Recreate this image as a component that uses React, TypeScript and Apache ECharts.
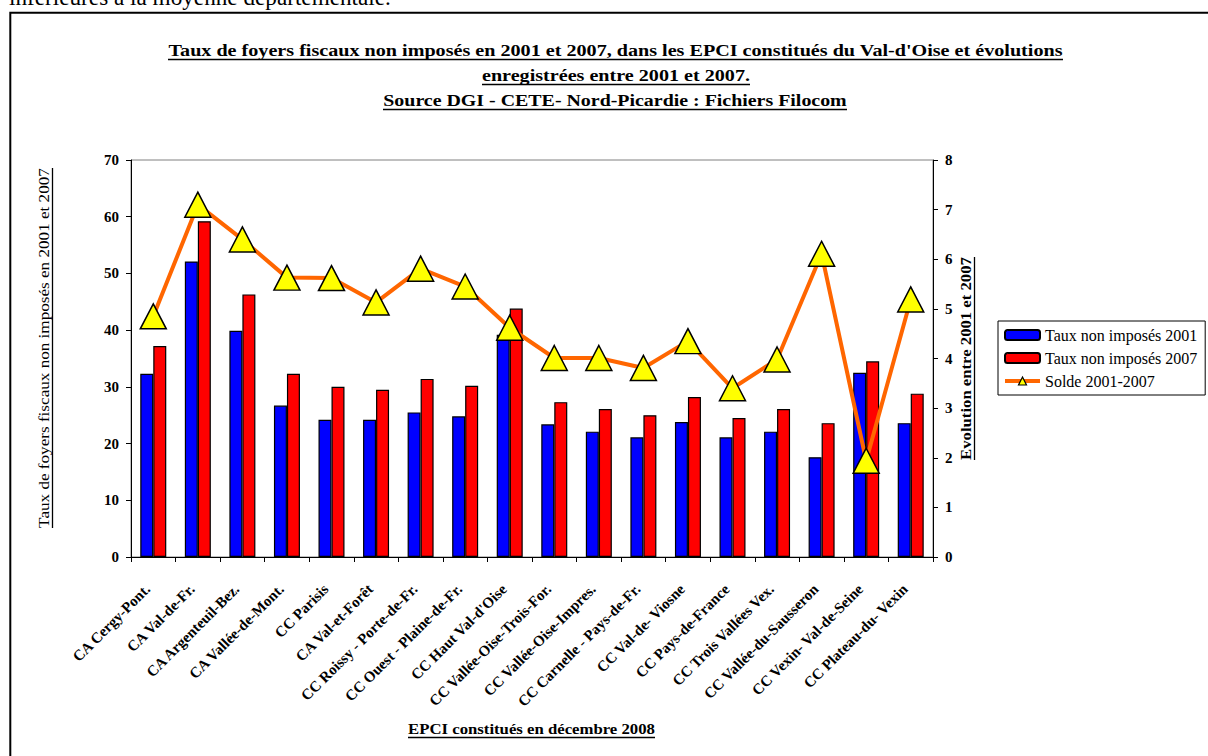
import React, { useEffect, useRef } from "react";
import * as echarts from "echarts";

const categories = [
  "CA Cergy-Pont.",
  "CA Val-de-Fr.",
  "CA Argenteuil-Bez.",
  "CA Vallée-de-Mont.",
  "CC Parisis",
  "CA Val-et-Forêt",
  "CC Roissy - Porte-de-Fr.",
  "CC Ouest - Plaine-de-Fr.",
  "CC Haut Val-d'Oise",
  "CC Vallée-Oise-Trois-For.",
  "CC Vallée-Oise-Impres.",
  "CC Carnelle - Pays-de-Fr.",
  "CC Val-de- Viosne",
  "CC Pays-de-France",
  "CC Trois Vallées Vex.",
  "CC Vallée-du-Sausseron",
  "CC Vexin- Val-de-Seine",
  "CC Plateau-du- Vexin",
];
const taux2001 = [32.3, 52.1, 39.9, 26.7, 24.2, 24.2, 25.5, 24.8, 39.2, 23.4, 22.1, 21.1, 23.8, 21.1, 22.1, 17.6, 32.5, 23.6];
const taux2007 = [37.2, 59.2, 46.3, 32.3, 30.0, 29.5, 31.4, 30.2, 43.8, 27.3, 26.1, 25.0, 28.2, 24.5, 26.1, 23.6, 34.5, 28.8];
const solde = [4.85, 7.1, 6.4, 5.63, 5.62, 5.13, 5.81, 5.45, 4.62, 4.01, 4.01, 3.81, 4.35, 3.4, 3.98, 6.11, 1.94, 5.19];

const leftTicks = { min: 0, max: 70, interval: 10 };
const rightTicks = { min: 0, max: 8, interval: 1 };

const titleLines = [
  "Taux de foyers fiscaux non imposés en 2001 et 2007, dans les EPCI constitués du Val-d'Oise et évolutions",
  "enregistrées entre 2001 et 2007.",
  "Source DGI - CETE- Nord-Picardie : Fichiers Filocom",
];
const topText = "inférieures à la moyenne départementale.";
const leftName = "Taux de foyers fiscaux non imposés en 2001 et 2007";
const rightName = "Evolution entre 2001 et 2007";
const xName = "EPCI constitués en décembre 2008";
const seriesNames = ["Taux non imposés 2001", "Taux non imposés 2007", "Solde 2001-2007"];

const SERIF = "'Liberation Serif', 'Times New Roman', serif";

function measure(text: string, font: string): number {
  const c = document.createElement("canvas");
  const ctx = c.getContext("2d");
  if (!ctx) return text.length * 7;
  ctx.font = font;
  return ctx.measureText(text).width;
}

function underlinedText(
  text: string,
  cx: number,
  cy: number,
  size: number,
  weight: string,
  vertical: boolean,
  targetLen: number
): any[] {
  const w0 = measure(text, `${weight} ${size}px ${SERIF}`);
  const s = w0 > 0 ? targetLen / w0 : 1;
  const w = targetLen;
  const off = size / 2 + 1;
  const t: any = {
    type: "text",
    x: cx,
    y: cy,
    scaleX: s,
    rotation: vertical ? Math.PI / 2 : 0,
    style: {
      text,
      fontFamily: SERIF,
      fontSize: size,
      fontWeight: weight,
      fill: "#000",
      align: "center",
      verticalAlign: "middle",
    },
    z: 10,
  };
  const l: any = vertical
    ? {
        type: "line",
        shape: { x1: cx + off, y1: cy - w / 2, x2: cx + off, y2: cy + w / 2 },
        style: { stroke: "#000", lineWidth: 1.3 },
        z: 10,
      }
    : {
        type: "line",
        shape: { x1: cx - w / 2, y1: cy + off, x2: cx + w / 2, y2: cy + off },
        style: { stroke: "#000", lineWidth: 1.3 },
        z: 10,
      };
  return [t, l];
}

export default function App() {
  const ref = useRef<HTMLDivElement>(null);
  useEffect(() => {
    if (!ref.current) return;
    const chart = echarts.init(ref.current, undefined, { renderer: "svg" });
    const axisLabelStyle = {
      fontFamily: SERIF,
      fontSize: 15,
      fontWeight: "bold" as const,
      color: "#000",
    };
    const graphics: any[] = [
      {
        type: "rect",
        shape: { x: 10.3, y: 12.7, width: 1210, height: 760 },
        style: { fill: "none", stroke: "#000", lineWidth: 2 },
        z: 0,
      },
      {
        type: "text",
        x: 9,
        y: 9,
        scaleX: 382 / Math.max(1, measure(topText, `24px ${SERIF}`)),
        style: {
          text: topText,
          fontFamily: SERIF,
          fontSize: 24,
          fill: "#000",
          align: "left",
          verticalAlign: "bottom",
        },
      },
      ...underlinedText(titleLines[0], 615.5, 50, 17, "bold", false, 895),
      ...underlinedText(titleLines[1], 616, 75, 17, "bold", false, 268),
      ...underlinedText(titleLines[2], 615, 100, 17, "bold", false, 464),
      ...underlinedText(leftName, 44, 348, 15, "normal", true, 360),
      ...underlinedText(rightName, 966, 358.5, 15, "bold", true, 203),
      ...underlinedText(xName, 531.5, 729, 15, "bold", false, 247),
    ];
    chart.setOption({
      animation: false,
      backgroundColor: "#fff",
      grid: {
        left: 131,
        top: 160,
        width: 802,
        height: 397,
        show: true,
        borderColor: "#808080",
        borderWidth: 1,
        backgroundColor: "transparent",
        containLabel: false,
      },
      legend: {
        orient: "vertical",
        left: 998,
        top: 321,
        itemWidth: 35,
        itemHeight: 10,
        itemGap: 7,
        padding: [6, 8, 6, 5],
        borderColor: "#000",
        borderWidth: 1,
        backgroundColor: "#fff",
        textStyle: { fontFamily: SERIF, fontSize: 16, color: "#000" },
        data: [
          { name: seriesNames[0] },
          { name: seriesNames[1] },
          {
            name: seriesNames[2],
            lineStyle: { color: "#FF6600", width: 4 },
            itemStyle: { color: "#FFFF00", borderColor: "#000", borderWidth: 1.2 },
          },
        ],
      },
      xAxis: {
        type: "category",
        data: categories,
        boundaryGap: true,
        axisLine: { show: true, lineStyle: { color: "#000", width: 1 } },
        axisTick: { show: true, length: 5, alignWithLabel: false, lineStyle: { color: "#000" } },
        axisLabel: { ...axisLabelStyle, rotate: 45, interval: 0, margin: 24, padding: [0, 8, 0, 0] },
        splitLine: { show: false },
      },
      yAxis: [
        {
          type: "value",
          ...leftTicks,
          axisLine: { show: true, lineStyle: { color: "#000", width: 1 } },
          axisTick: { show: true, length: 5, lineStyle: { color: "#000" } },
          axisLabel: { ...axisLabelStyle, margin: 12 },
          splitLine: { show: false },
        },
        {
          type: "value",
          position: "right",
          ...rightTicks,
          axisLine: { show: true, lineStyle: { color: "#000", width: 1 } },
          axisTick: { show: true, length: 5, lineStyle: { color: "#000" } },
          axisLabel: { ...axisLabelStyle, margin: 12 },
          splitLine: { show: false },
        },
      ],
      series: [
        {
          name: seriesNames[0],
          type: "bar",
          data: taux2001,
          barWidth: 13,
          barGap: "0%",
          itemStyle: { color: "#0000FF", borderColor: "#000", borderWidth: 1.2 },
          z: 2,
        },
        {
          name: seriesNames[1],
          type: "bar",
          data: taux2007,
          barWidth: 13,
          barGap: "0%",
          itemStyle: { color: "#FF0000", borderColor: "#000", borderWidth: 1.2 },
          z: 2,
        },
        {
          name: seriesNames[2],
          type: "line",
          yAxisIndex: 1,
          data: solde,
          symbol: "triangle",
          symbolSize: [26, 25],
          lineStyle: { color: "#FF6600", width: 4 },
          itemStyle: { color: "#FFFF00", borderColor: "#000", borderWidth: 1.5 },
          z: 5,
        },
      ],
      graphic: graphics,
    });
    return () => chart.dispose();
  }, []);
  return (
    <div
      ref={ref}
      style={{ position: "fixed", left: 0, top: 0, width: 1208, height: 756 }}
    />
  );
}
